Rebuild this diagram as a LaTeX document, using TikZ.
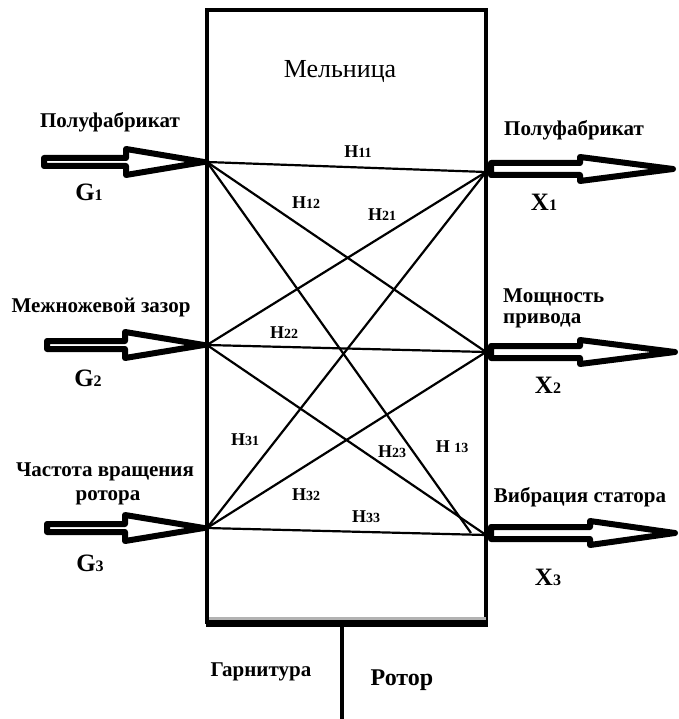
\documentclass[tikz,border=0pt]{standalone}
\usepackage{fontspec}
\setmainfont{Liberation Serif}
\usetikzlibrary{calc}
\begin{document}
\begin{tikzpicture}[x=1pt,y=-1pt,
  lbl/.style={font=\fontsize{21}{23}\selectfont\bfseries, inner sep=0pt},
  var/.style={font=\fontsize{25}{27}\selectfont\bfseries, inner sep=0pt},
  hl/.style={font=\fontsize{18}{20}\selectfont\bfseries, inner sep=0pt},
  link/.style={line width=2.2pt},
  arrowline/.style={line width=6pt, line join=round, fill=white},
  pics/fatarrow/.style n args={4}{code={
    \draw[arrowline] (0,-#4) -- (#1,-#4) -- (#1,-#3) -- (#2,0) -- (#1,#3) -- (#1,#4) -- (0,#4) -- cycle;}}
]
\fill[white] (0,0) rectangle (678,719);
\useasboundingbox (0,0) rectangle (678,719);
% box
\node[draw, line width=3.5pt, minimum width=279pt, minimum height=612pt, inner sep=0pt] (mill) at (346.5,316) {};
\draw[gray!60, line width=3pt] (209,618) -- (486,618);
\draw[line width=7pt] (205.5,623) -- (488,623);
\coordinate (stemtop) at (342,626);
\coordinate (stembot) at (342,719);
\draw[line width=4pt] (stemtop) -- (stembot);
\node[font=\fontsize{26}{28}\selectfont, inner sep=0pt] (title) at (340,72) {Мельница};
% ports
\coordinate (L1) at (207,162);
\coordinate (L2) at (207,345);
\coordinate (L3) at (207,528);
\coordinate (R1) at (486,172);
\coordinate (R2) at (486,352);
\coordinate (R3) at (486,535);
\coordinate (R3b) at (471,533);
% links
\draw[link] (L1) -- (R1);
\draw[link] (L1) -- (R2);
\draw[link] (L1) -- (R3b);
\draw[link] (L2) -- (R1);
\draw[link] (L2) -- (R2);
\draw[link] (L2) -- (R3);
\draw[link] (L3) -- (R1);
\draw[link] (L3) -- (R2);
\draw[link] (L3) -- (R3);
% arrows
\pic at ($(L1)+(-163,0)$) {fatarrow={82}{160}{13}{4}};
\pic at ($(L2)+(-160,0)$) {fatarrow={78}{157}{13}{4}};
\pic at ($(L3)+(-160,0)$) {fatarrow={78}{157}{13}{4}};
\pic at ($(R1)+(5,-3)$) {fatarrow={89}{182}{12}{6}};
\pic at ($(R2)+(5,0)$) {fatarrow={89}{184}{12}{6}};
\pic at ($(R3)+(5,-2)$) {fatarrow={99}{184}{12}{6}};
% left labels
\node[lbl] (in1) at (110,122) {Полуфабрикат};
\node[var] (g1) at (89,192) {G{\fontsize{16}{17}\selectfont 1}};
\node[lbl] (in2) at (101,308) {Межножевой зазор};
\node[var] (g2) at (88,378) {G{\fontsize{16}{17}\selectfont 2}};
\node[lbl] (in3a) at (105,472) {Частота вращения};
\node[lbl] (in3b) at (108,498) {ротора};
\node[var] (g3) at (90,563) {G{\fontsize{16}{17}\selectfont 3}};
% right labels
\node[lbl] (out1) at (574,130) {Полуфабрикат};
\node[var] (x1) at (544,202) {X{\fontsize{16}{17}\selectfont 1}};
\node[lbl, anchor=west] (out2a) at (503,297) {Мощность};
\node[lbl, anchor=west] (out2b) at (503,321) {привода};
\node[var] (x2) at (548,385) {X{\fontsize{16}{17}\selectfont 2}};
\node[lbl] (out3) at (580,497) {Вибрация статора};
\node[var] (x3) at (548,577) {X{\fontsize{16}{17}\selectfont 3}};
% H labels
\newcommand\hsub[1]{{\fontsize{14}{15}\selectfont #1}}
\node[hl] (h11) at (358,152) {H\hsub{11}};
\node[hl] (h12) at (306,203) {H\hsub{12}};
\node[hl] (h21) at (382,215) {H\hsub{21}};
\node[hl] (h22) at (284,333) {H\hsub{22}};
\node[hl] (h31) at (245,440) {H\hsub{31}};
\node[hl] (h23) at (392,452) {H\hsub{23}};
\node[hl] (h13) at (452,447) {H \hsub{13}};
\node[hl] (h32) at (306,495) {H\hsub{32}};
\node[hl] (h33) at (366,517) {H\hsub{33}};
% bottom labels
\node[lbl, font=\fontsize{21}{23}\selectfont\bfseries] (garn) at (261,672) {Гарнитура};
\node[lbl, font=\fontsize{24}{26}\selectfont\bfseries] (rotor) at (402,680) {Ротор};
\end{tikzpicture}
\end{document}
